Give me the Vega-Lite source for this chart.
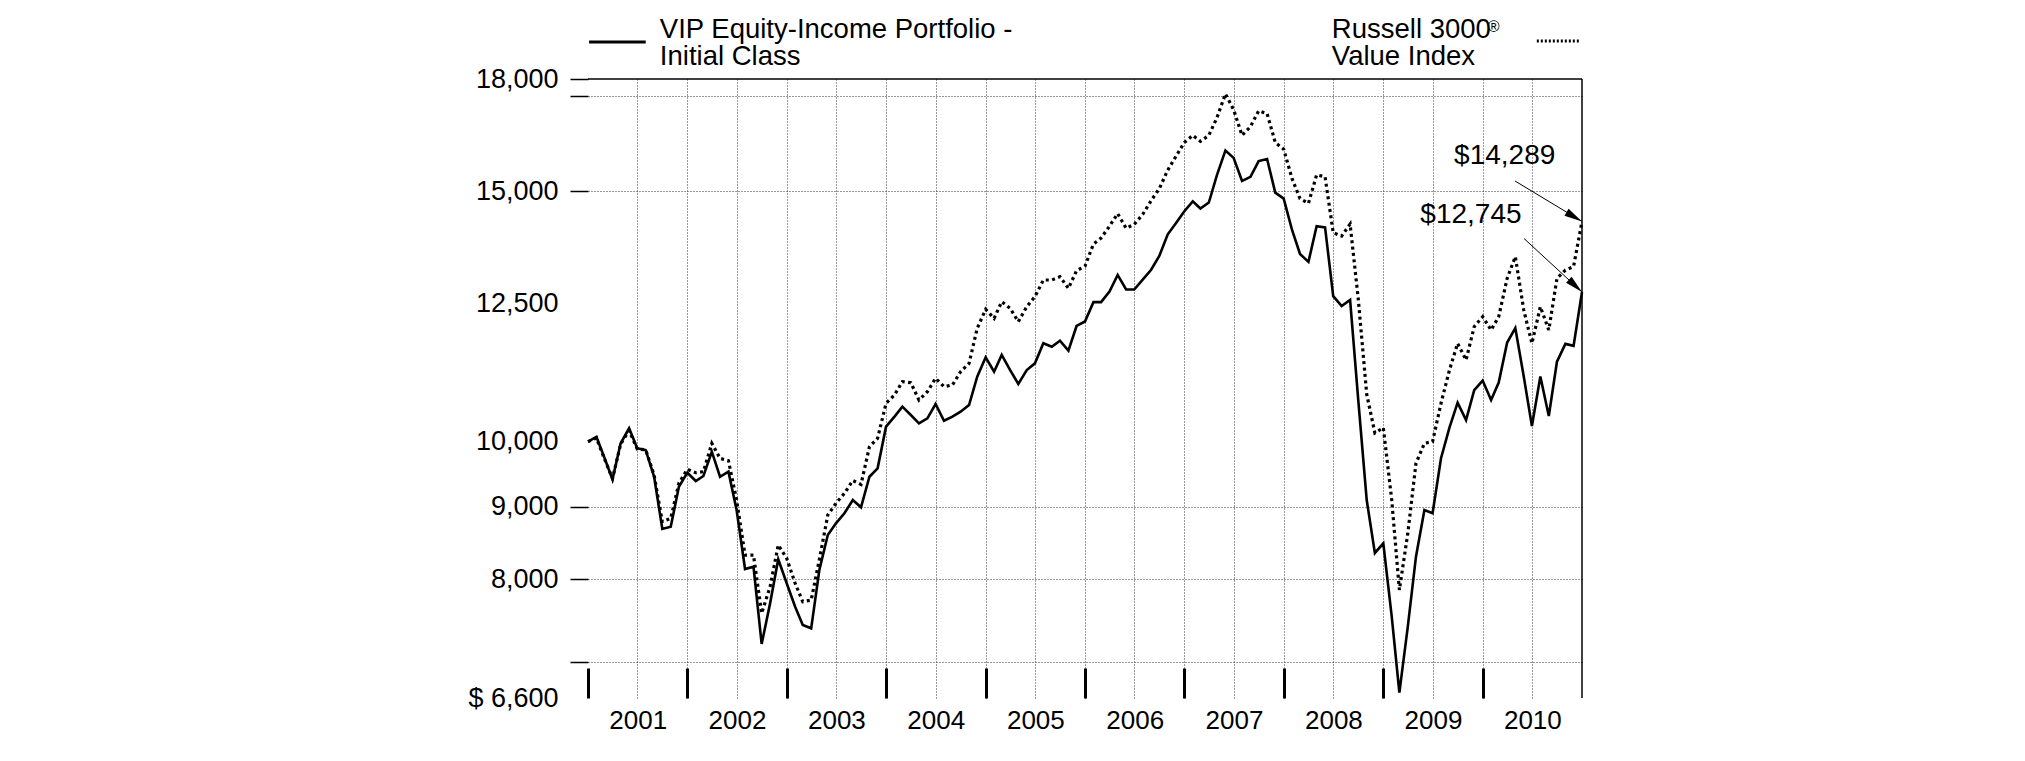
{
  "$schema": "https://vega.github.io/schema/vega-lite/v6.json",
  "width": 994,
  "height": 619,
  "autosize": {"type": "none"},
  "padding": {"left": 588, "top": 79, "right": 443, "bottom": 63},
  "background": "white",
  "config": {"view": {"stroke": null}},
  "data": {"values": [
    {"date": "2000-12-31", "vip": 10000, "r3v": 10000},
    {"date": "2001-01-31", "vip": 10079, "r3v": 10060},
    {"date": "2001-02-28", "vip": 9759, "r3v": 9740},
    {"date": "2001-03-31", "vip": 9407, "r3v": 9420},
    {"date": "2001-04-30", "vip": 9973, "r3v": 9960},
    {"date": "2001-05-31", "vip": 10218, "r3v": 10180},
    {"date": "2001-06-30", "vip": 9893, "r3v": 9880},
    {"date": "2001-07-31", "vip": 9865, "r3v": 9870},
    {"date": "2001-08-31", "vip": 9447, "r3v": 9470},
    {"date": "2001-09-30", "vip": 8680, "r3v": 8783},
    {"date": "2001-10-31", "vip": 8712, "r3v": 8831},
    {"date": "2001-11-30", "vip": 9295, "r3v": 9350},
    {"date": "2001-12-31", "vip": 9509, "r3v": 9561},
    {"date": "2002-01-31", "vip": 9382, "r3v": 9509},
    {"date": "2002-02-28", "vip": 9458, "r3v": 9525},
    {"date": "2002-03-31", "vip": 9838, "r3v": 9973},
    {"date": "2002-04-30", "vip": 9447, "r3v": 9733},
    {"date": "2002-05-31", "vip": 9525, "r3v": 9696},
    {"date": "2002-06-30", "vip": 8951, "r3v": 9097},
    {"date": "2002-07-31", "vip": 8135, "r3v": 8321},
    {"date": "2002-08-31", "vip": 8165, "r3v": 8321},
    {"date": "2002-09-30", "vip": 7204, "r3v": 7571},
    {"date": "2002-10-31", "vip": 7694, "r3v": 7905},
    {"date": "2002-11-30", "vip": 8263, "r3v": 8457},
    {"date": "2002-12-31", "vip": 7949, "r3v": 8277},
    {"date": "2003-01-31", "vip": 7653, "r3v": 7949},
    {"date": "2003-02-28", "vip": 7429, "r3v": 7715},
    {"date": "2003-03-31", "vip": 7389, "r3v": 7735},
    {"date": "2003-04-30", "vip": 8122, "r3v": 8260},
    {"date": "2003-05-31", "vip": 8596, "r3v": 8879},
    {"date": "2003-06-30", "vip": 8760, "r3v": 9049},
    {"date": "2003-07-31", "vip": 8904, "r3v": 9196},
    {"date": "2003-08-31", "vip": 9096, "r3v": 9390},
    {"date": "2003-09-30", "vip": 8990, "r3v": 9330},
    {"date": "2003-10-31", "vip": 9447, "r3v": 9918},
    {"date": "2003-11-30", "vip": 9577, "r3v": 10054},
    {"date": "2003-12-31", "vip": 10246, "r3v": 10640},
    {"date": "2004-01-31", "vip": 10413, "r3v": 10785},
    {"date": "2004-02-29", "vip": 10583, "r3v": 11021},
    {"date": "2004-03-31", "vip": 10441, "r3v": 11002},
    {"date": "2004-04-30", "vip": 10301, "r3v": 10698},
    {"date": "2004-05-31", "vip": 10385, "r3v": 10843},
    {"date": "2004-06-30", "vip": 10629, "r3v": 11081},
    {"date": "2004-07-31", "vip": 10345, "r3v": 10932},
    {"date": "2004-08-31", "vip": 10413, "r3v": 10962},
    {"date": "2004-09-30", "vip": 10498, "r3v": 11201},
    {"date": "2004-10-31", "vip": 10612, "r3v": 11353},
    {"date": "2004-11-30", "vip": 11110, "r3v": 12016},
    {"date": "2004-12-31", "vip": 11464, "r3v": 12392},
    {"date": "2005-01-31", "vip": 11201, "r3v": 12212},
    {"date": "2005-02-28", "vip": 11508, "r3v": 12546},
    {"date": "2005-03-31", "vip": 11231, "r3v": 12413},
    {"date": "2005-04-30", "vip": 10980, "r3v": 12146},
    {"date": "2005-05-31", "vip": 11231, "r3v": 12445},
    {"date": "2005-06-30", "vip": 11353, "r3v": 12648},
    {"date": "2005-07-31", "vip": 11728, "r3v": 12995},
    {"date": "2005-08-31", "vip": 11664, "r3v": 12995},
    {"date": "2005-09-30", "vip": 11778, "r3v": 13065},
    {"date": "2005-10-31", "vip": 11589, "r3v": 12821},
    {"date": "2005-11-30", "vip": 12062, "r3v": 13193},
    {"date": "2005-12-31", "vip": 12150, "r3v": 13290},
    {"date": "2006-01-31", "vip": 12537, "r3v": 13776},
    {"date": "2006-02-28", "vip": 12537, "r3v": 13909},
    {"date": "2006-03-31", "vip": 12755, "r3v": 14179},
    {"date": "2006-04-30", "vip": 13103, "r3v": 14472},
    {"date": "2006-05-31", "vip": 12797, "r3v": 14133},
    {"date": "2006-06-30", "vip": 12797, "r3v": 14222},
    {"date": "2006-07-31", "vip": 13003, "r3v": 14453},
    {"date": "2006-08-31", "vip": 13213, "r3v": 14780},
    {"date": "2006-09-30", "vip": 13512, "r3v": 15068},
    {"date": "2006-10-31", "vip": 13995, "r3v": 15529},
    {"date": "2006-11-30", "vip": 14249, "r3v": 15880},
    {"date": "2006-12-31", "vip": 14527, "r3v": 16240},
    {"date": "2007-01-31", "vip": 14762, "r3v": 16429},
    {"date": "2007-02-28", "vip": 14592, "r3v": 16271},
    {"date": "2007-03-31", "vip": 14734, "r3v": 16429},
    {"date": "2007-04-30", "vip": 15408, "r3v": 16909},
    {"date": "2007-05-31", "vip": 16032, "r3v": 17571},
    {"date": "2007-06-30", "vip": 15839, "r3v": 17127},
    {"date": "2007-07-31", "vip": 15261, "r3v": 16429},
    {"date": "2007-08-31", "vip": 15361, "r3v": 16663},
    {"date": "2007-09-30", "vip": 15759, "r3v": 17095},
    {"date": "2007-10-31", "vip": 15810, "r3v": 17017},
    {"date": "2007-11-30", "vip": 14973, "r3v": 16240},
    {"date": "2007-12-31", "vip": 14828, "r3v": 16064},
    {"date": "2008-01-31", "vip": 14087, "r3v": 15311},
    {"date": "2008-02-29", "vip": 13554, "r3v": 14828},
    {"date": "2008-03-31", "vip": 13383, "r3v": 14715},
    {"date": "2008-04-30", "vip": 14179, "r3v": 15408},
    {"date": "2008-05-31", "vip": 14151, "r3v": 15361},
    {"date": "2008-06-30", "vip": 12660, "r3v": 14030},
    {"date": "2008-07-31", "vip": 12459, "r3v": 13955},
    {"date": "2008-08-31", "vip": 12581, "r3v": 14229},
    {"date": "2008-09-30", "vip": 10697, "r3v": 12600},
    {"date": "2008-10-31", "vip": 9097, "r3v": 10800},
    {"date": "2008-11-30", "vip": 8349, "r3v": 10141},
    {"date": "2008-12-31", "vip": 8480, "r3v": 10229},
    {"date": "2009-01-31", "vip": 7530, "r3v": 9097},
    {"date": "2009-02-28", "vip": 6657, "r3v": 7863},
    {"date": "2009-03-31", "vip": 7409, "r3v": 8619},
    {"date": "2009-04-30", "vip": 8299, "r3v": 9655},
    {"date": "2009-05-31", "vip": 8951, "r3v": 9973},
    {"date": "2009-06-30", "vip": 8904, "r3v": 9999},
    {"date": "2009-07-31", "vip": 9734, "r3v": 10640},
    {"date": "2009-08-31", "vip": 10229, "r3v": 11231},
    {"date": "2009-09-30", "vip": 10652, "r3v": 11727},
    {"date": "2009-10-31", "vip": 10357, "r3v": 11415},
    {"date": "2009-11-30", "vip": 10870, "r3v": 12048},
    {"date": "2009-12-31", "vip": 11040, "r3v": 12244},
    {"date": "2010-01-31", "vip": 10697, "r3v": 11983},
    {"date": "2010-02-28", "vip": 11004, "r3v": 12244},
    {"date": "2010-03-31", "vip": 11743, "r3v": 13030},
    {"date": "2010-04-30", "vip": 12022, "r3v": 13496},
    {"date": "2010-05-31", "vip": 11114, "r3v": 12378},
    {"date": "2010-06-30", "vip": 10256, "r3v": 11727},
    {"date": "2010-07-31", "vip": 11114, "r3v": 12445},
    {"date": "2010-08-31", "vip": 10424, "r3v": 11983},
    {"date": "2010-09-30", "vip": 11383, "r3v": 13030},
    {"date": "2010-10-31", "vip": 11717, "r3v": 13207},
    {"date": "2010-11-30", "vip": 11679, "r3v": 13279},
    {"date": "2010-12-31", "vip": 12745, "r3v": 14289}
  ]},
  "layer": [
    {
      "mark": {"type": "line", "color": "#000", "strokeWidth": 2.6},
      "encoding": {
        "x": {"field": "date", "type": "temporal",
          "scale": {"type": "utc", "nice": false, "domain": [{"year": 2000, "month": 12, "date": 31, "utc": true}, {"year": 2010, "month": 12, "date": 31, "utc": true}]},
          "axis": {
            "title": null, "domain": false, "orient": "bottom", "offset": -30,
            "values": [
              {"year": 2000, "month": 12, "date": 31, "utc": true},
              {"year": 2001, "month": 3, "date": 31, "utc": true}, {"year": 2001, "month": 6, "date": 30, "utc": true}, {"year": 2001, "month": 9, "date": 30, "utc": true}, {"year": 2001, "month": 12, "date": 31, "utc": true},
              {"year": 2002, "month": 3, "date": 31, "utc": true}, {"year": 2002, "month": 6, "date": 30, "utc": true}, {"year": 2002, "month": 9, "date": 30, "utc": true}, {"year": 2002, "month": 12, "date": 31, "utc": true},
              {"year": 2003, "month": 3, "date": 31, "utc": true}, {"year": 2003, "month": 6, "date": 30, "utc": true}, {"year": 2003, "month": 9, "date": 30, "utc": true}, {"year": 2003, "month": 12, "date": 31, "utc": true},
              {"year": 2004, "month": 3, "date": 31, "utc": true}, {"year": 2004, "month": 6, "date": 30, "utc": true}, {"year": 2004, "month": 9, "date": 30, "utc": true}, {"year": 2004, "month": 12, "date": 31, "utc": true},
              {"year": 2005, "month": 3, "date": 31, "utc": true}, {"year": 2005, "month": 6, "date": 30, "utc": true}, {"year": 2005, "month": 9, "date": 30, "utc": true}, {"year": 2005, "month": 12, "date": 31, "utc": true},
              {"year": 2006, "month": 3, "date": 31, "utc": true}, {"year": 2006, "month": 6, "date": 30, "utc": true}, {"year": 2006, "month": 9, "date": 30, "utc": true}, {"year": 2006, "month": 12, "date": 31, "utc": true},
              {"year": 2007, "month": 3, "date": 31, "utc": true}, {"year": 2007, "month": 6, "date": 30, "utc": true}, {"year": 2007, "month": 9, "date": 30, "utc": true}, {"year": 2007, "month": 12, "date": 31, "utc": true},
              {"year": 2008, "month": 3, "date": 31, "utc": true}, {"year": 2008, "month": 6, "date": 30, "utc": true}, {"year": 2008, "month": 9, "date": 30, "utc": true}, {"year": 2008, "month": 12, "date": 31, "utc": true},
              {"year": 2009, "month": 3, "date": 31, "utc": true}, {"year": 2009, "month": 6, "date": 30, "utc": true}, {"year": 2009, "month": 9, "date": 30, "utc": true}, {"year": 2009, "month": 12, "date": 31, "utc": true},
              {"year": 2010, "month": 3, "date": 31, "utc": true}, {"year": 2010, "month": 6, "date": 30, "utc": true}, {"year": 2010, "month": 9, "date": 30, "utc": true}
            ],
            "labelExpr": "utcmonth(datum.value) == 11 ? utcFormat(datum.value + 172800000, '%Y') : ''",
            "labelOffset": 49.7, "labelPadding": 9, "labelFont": "Liberation Sans", "labelFontSize": 26, "labelColor": "#000",
            "labelOverlap": false, "labelFlush": false, "labelBound": false, "labelAlign": "center",
            "tickSize": 30, "tickWidth": 3, "tickColor": "#000",
            "tickOpacity": {"condition": {"test": "utcmonth(datum.value) != 11", "value": 0}, "value": 1},
            "grid": true, "gridColor": "#333", "gridDash": [1, 2], "gridWidth": 1,
            "gridOpacity": {"condition": {"test": "utcyear(datum.value) == 2000", "value": 0}, "value": 1}
          }
        },
        "y": {"field": "vip", "type": "quantitative",
          "scale": {"type": "log", "nice": false, "zero": false, "domain": [6600, 18000]},
          "axis": {
            "title": null, "domain": false,
            "values": [6600, 7000, 8000, 9000, 10000, 12500, 15000, 17500, 18000],
            "labelExpr": "datum.value == 6600 ? '$ 6,600' : (datum.value == 7000 || datum.value == 17500) ? '' : format(datum.value, ',')",
            "labelFont": "Liberation Sans", "labelFontSize": 27, "labelColor": "#000", "labelPadding": 12,
            "labelOverlap": false, "labelBound": false, "labelFlush": false,
            "tickSize": 18, "tickWidth": 1.5, "tickColor": "#000",
            "tickOpacity": {"condition": {"test": "datum.value == 6600 || datum.value == 10000 || datum.value == 12500", "value": 0}, "value": 1},
            "grid": true, "gridColor": "#333", "gridDash": [1, 2], "gridWidth": 1,
            "gridOpacity": {"condition": {"test": "datum.value == 6600 || datum.value == 10000 || datum.value == 12500 || datum.value == 18000", "value": 0}, "value": 1}
          }
        }
      }
    },
    {
      "mark": {"type": "line", "color": "#000", "strokeWidth": 3.2, "strokeDash": [3, 3.4], "strokeCap": "butt"},
      "encoding": {
        "x": {"field": "date", "type": "temporal", "scale": {"type": "utc", "nice": false}, "axis": {"title": null}},
        "y": {"field": "r3v", "type": "quantitative", "scale": {"type": "log", "nice": false, "zero": false}, "axis": {"title": null}}
      }
    },
    {
      "data": {"values": [{}]},
      "mark": {"type": "rule", "color": "#000", "strokeWidth": 1.5},
      "encoding": {
        "y": {"datum": 18000, "type": "quantitative", "scale": {"type": "log", "nice": false, "zero": false}, "axis": {"title": null}}
      }
    },
    {
      "data": {"values": [{}]},
      "mark": {"type": "rule", "color": "#000", "strokeWidth": 1.5},
      "encoding": {
        "x": {"datum": {"year": 2010, "month": 12, "date": 31, "utc": true}, "type": "temporal", "scale": {"type": "utc", "nice": false}, "axis": {"title": null}}
      }
    },
    {
      "data": {"values": [{}]},
      "mark": {"type": "rule", "color": "#000", "strokeWidth": 3},
      "encoding": {
        "x": {"datum": {"year": 2001, "month": 1, "date": 4, "utc": true}, "type": "temporal", "scale": {"type": "utc", "nice": false}, "axis": {"title": null}},
        "x2": {"datum": {"year": 2001, "month": 7, "date": 31, "utc": true}},
        "y": {"datum": 19111, "type": "quantitative", "scale": {"type": "log", "nice": false, "zero": false}, "axis": {"title": null}}
      }
    },
    {
      "data": {"values": [{}]},
      "mark": {"type": "rule", "color": "#000", "strokeWidth": 3, "strokeDash": [2, 2]},
      "encoding": {
        "x": {"datum": {"year": 2010, "month": 7, "date": 18, "utc": true}, "type": "temporal", "scale": {"type": "utc", "nice": false}, "axis": {"title": null}},
        "x2": {"datum": {"year": 2010, "month": 12, "date": 23, "utc": true}},
        "y": {"datum": 19142, "type": "quantitative", "scale": {"type": "log", "nice": false, "zero": false}, "axis": {"title": null}}
      }
    },
    {
      "data": {"values": [{}]},
      "mark": {"type": "text", "text": "VIP Equity-Income Portfolio -", "align": "left", "baseline": "middle", "font": "Liberation Sans", "fontSize": 27.5, "color": "#000"},
      "encoding": {
        "x": {"datum": {"year": 2001, "month": 9, "date": 21, "utc": true}, "type": "temporal", "scale": {"type": "utc", "nice": false}, "axis": {"title": null}},
        "y": {"datum": 19487, "type": "quantitative", "scale": {"type": "log", "nice": false, "zero": false}, "axis": {"title": null}}
      }
    },
    {
      "data": {"values": [{}]},
      "mark": {"type": "text", "text": "Initial Class", "align": "left", "baseline": "middle", "font": "Liberation Sans", "fontSize": 27.5, "color": "#000"},
      "encoding": {
        "x": {"datum": {"year": 2001, "month": 9, "date": 21, "utc": true}, "type": "temporal", "scale": {"type": "utc", "nice": false}, "axis": {"title": null}},
        "y": {"datum": 18652, "type": "quantitative", "scale": {"type": "log", "nice": false, "zero": false}, "axis": {"title": null}}
      }
    },
    {
      "data": {"values": [{}]},
      "mark": {"type": "text", "text": "Russell 3000", "align": "left", "baseline": "middle", "font": "Liberation Sans", "fontSize": 27.5, "color": "#000"},
      "encoding": {
        "x": {"datum": {"year": 2008, "month": 6, "date": 25, "utc": true}, "type": "temporal", "scale": {"type": "utc", "nice": false}, "axis": {"title": null}},
        "y": {"datum": 19487, "type": "quantitative", "scale": {"type": "log", "nice": false, "zero": false}, "axis": {"title": null}}
      }
    },
    {
      "data": {"values": [{}]},
      "mark": {"type": "text", "text": "®", "align": "left", "baseline": "middle", "font": "Liberation Sans", "fontSize": 16, "color": "#000"},
      "encoding": {
        "x": {"datum": {"year": 2010, "month": 1, "date": 19, "utc": true}, "type": "temporal", "scale": {"type": "utc", "nice": false}, "axis": {"title": null}},
        "y": {"datum": 19582, "type": "quantitative", "scale": {"type": "log", "nice": false, "zero": false}, "axis": {"title": null}}
      }
    },
    {
      "data": {"values": [{}]},
      "mark": {"type": "text", "text": "Value Index", "align": "left", "baseline": "middle", "font": "Liberation Sans", "fontSize": 27.5, "color": "#000"},
      "encoding": {
        "x": {"datum": {"year": 2008, "month": 6, "date": 25, "utc": true}, "type": "temporal", "scale": {"type": "utc", "nice": false}, "axis": {"title": null}},
        "y": {"datum": 18652, "type": "quantitative", "scale": {"type": "log", "nice": false, "zero": false}, "axis": {"title": null}}
      }
    },
    {
      "data": {"values": [{}]},
      "mark": {"type": "text", "text": "$14,289", "align": "center", "baseline": "middle", "font": "Liberation Sans", "fontSize": 28, "color": "#000"},
      "encoding": {
        "x": {"datum": {"year": 2010, "month": 3, "date": 22, "utc": true}, "type": "temporal", "scale": {"type": "utc", "nice": false}, "axis": {"title": null}},
        "y": {"datum": 15888, "type": "quantitative", "scale": {"type": "log", "nice": false, "zero": false}, "axis": {"title": null}}
      }
    },
    {
      "data": {"values": [{}]},
      "mark": {"type": "text", "text": "$12,745", "align": "center", "baseline": "middle", "font": "Liberation Sans", "fontSize": 28, "color": "#000"},
      "encoding": {
        "x": {"datum": {"year": 2009, "month": 11, "date": 18, "utc": true}, "type": "temporal", "scale": {"type": "utc", "nice": false}, "axis": {"title": null}},
        "y": {"datum": 14430, "type": "quantitative", "scale": {"type": "log", "nice": false, "zero": false}, "axis": {"title": null}}
      }
    },
    {
      "data": {"values": [{}]},
      "mark": {"type": "rule", "color": "#000", "strokeWidth": 1},
      "encoding": {
        "x": {"datum": {"year": 2010, "month": 4, "date": 29, "utc": true}, "type": "temporal", "scale": {"type": "utc", "nice": false}, "axis": {"title": null}},
        "x2": {"datum": {"year": 2010, "month": 12, "date": 31, "utc": true}},
        "y": {"datum": 15257, "type": "quantitative", "scale": {"type": "log", "nice": false, "zero": false}, "axis": {"title": null}},
        "y2": {"datum": 14289}
      }
    },
    {
      "data": {"values": [{}]},
      "mark": {"type": "rule", "color": "#000", "strokeWidth": 1},
      "encoding": {
        "x": {"datum": {"year": 2010, "month": 6, "date": 1, "utc": true}, "type": "temporal", "scale": {"type": "utc", "nice": false}, "axis": {"title": null}},
        "x2": {"datum": {"year": 2010, "month": 12, "date": 31, "utc": true}},
        "y": {"datum": 13899, "type": "quantitative", "scale": {"type": "log", "nice": false, "zero": false}, "axis": {"title": null}},
        "y2": {"datum": 12745}
      }
    },
    {
      "data": {"values": [{}]},
      "mark": {"type": "point", "shape": "M0,0L-2,-0.45L-2,0.45Z", "filled": true, "color": "#000", "opacity": 1, "size": 324, "angle": 30.8},
      "encoding": {
        "x": {"datum": {"year": 2010, "month": 12, "date": 31, "utc": true}, "type": "temporal", "scale": {"type": "utc", "nice": false}, "axis": {"title": null}},
        "y": {"datum": 14289, "type": "quantitative", "scale": {"type": "log", "nice": false, "zero": false}, "axis": {"title": null}}
      }
    },
    {
      "data": {"values": [{}]},
      "mark": {"type": "point", "shape": "M0,0L-2,-0.45L-2,0.45Z", "filled": true, "color": "#000", "opacity": 1, "size": 324, "angle": 43},
      "encoding": {
        "x": {"datum": {"year": 2010, "month": 12, "date": 31, "utc": true}, "type": "temporal", "scale": {"type": "utc", "nice": false}, "axis": {"title": null}},
        "y": {"datum": 12745, "type": "quantitative", "scale": {"type": "log", "nice": false, "zero": false}, "axis": {"title": null}}
      }
    }
  ]
}
